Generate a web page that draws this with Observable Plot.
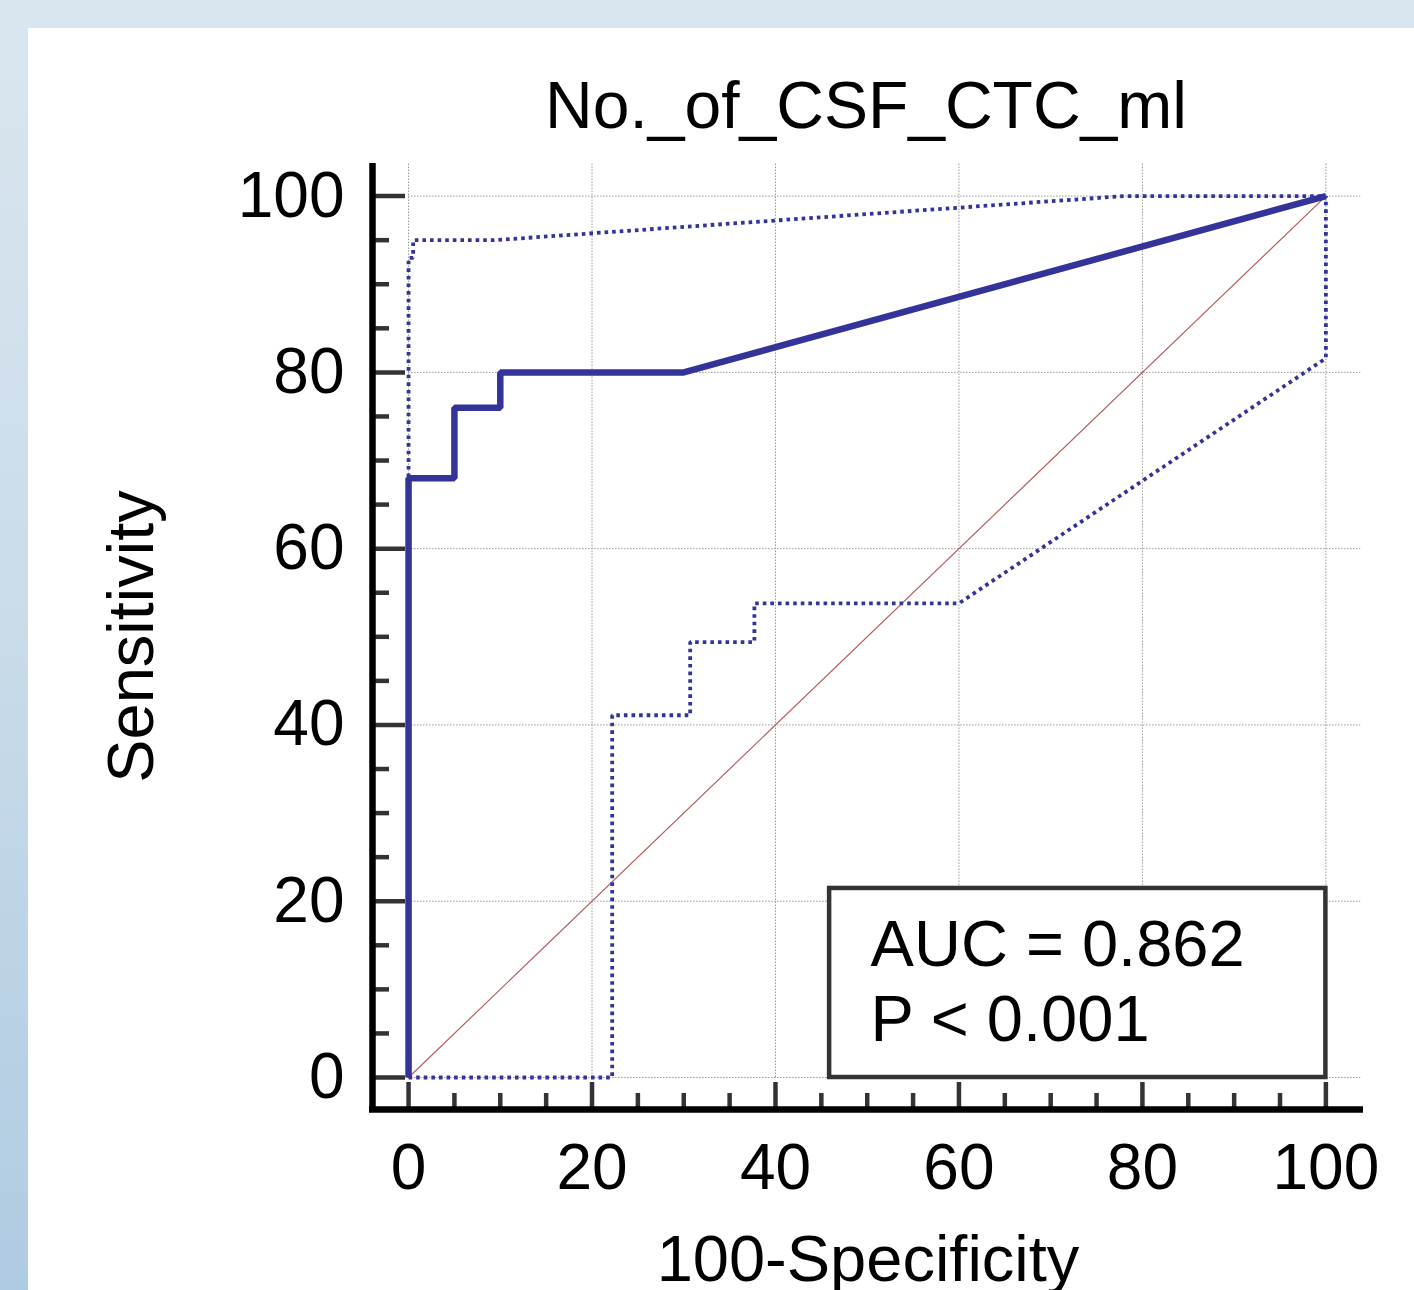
<!DOCTYPE html>
<html>
<head>
<meta charset="utf-8">
<script src="https://cdn.jsdelivr.net/npm/d3@7"></script>
<script src="https://cdn.jsdelivr.net/npm/@observablehq/plot@0.6"></script>
<style>
html, body { margin: 0; padding: 0; width: 1414px; height: 1290px; overflow: hidden; }
body { position: relative; background: linear-gradient(to bottom, #dae6ef 0%, #c9dbe9 50%, #afcbe2 100%); }
#panel { position: absolute; left: 28px; top: 28px; width: 1386px; height: 1262px; background: #ffffff; overflow: hidden; }
#panel svg { display: block; }
</style>
</head>
<body>
<div id="panel"></div>
<script>
// ---- Text ----
const titleText = "No._of_CSF_CTC_ml";
const xLabelText = "100-Specificity";
const yLabelText = "Sensitivity";
const statLines = ["AUC = 0.862", "P < 0.001"];

// ---- Tick values ----
const majorTicks = [0, 20, 40, 60, 80, 100];
const minorTicks = [5, 10, 15, 25, 30, 35, 45, 50, 55, 65, 70, 75, 85, 90, 95];

// ---- ROC curve (100-Specificity, Sensitivity) ----
const rocX = [0, 0, 5, 5, 10, 10, 30, 100];
const rocY = [0, 68, 68, 76, 76, 80, 80, 100];

// ---- Upper confidence bound ----
const upperX = [0, 0, 0.5, 0.5, 9.3, 78, 100];
const upperY = [0, 93, 93, 95, 95, 100, 100];

// ---- Lower confidence bound ----
const lowerX = [0, 22.2, 22.2, 30.7, 30.7, 37.7, 37.7, 60, 100, 100];
const lowerY = [0, 0, 41.1, 41.1, 49.4, 49.4, 53.8, 53.8, 81.6, 100];

// ---- Reference diagonal ----
const diagX = [0, 100];
const diagY = [0, 100];

// ---- Statistics box extent (data units) ----
const boxX = [45.9, 100];
const boxY = [0, 21.45];

// ---- Layout ----
const W = 1386, H = 1262;
const mL = 344, mR = 51, mT = 135, mB = 181;
const xDomain = [-3.93, 104.1];
const yDomain = [-3.63, 103.7];
const pxPerX = (W - mL - mR) / (xDomain[1] - xDomain[0]);
const pxPerY = (H - mT - mB) / (yDomain[1] - yDomain[0]);

const toPts = (xs, ys) => xs.map((x, i) => ({x, y: ys[i]}));
const roc = toPts(rocX, rocY);
const upper = toPts(upperX, upperY);
const lower = toPts(lowerX, lowerY);
const diag = toPts(diagX, diagY);
const box = [{x1: boxX[0], x2: boxX[1], y1: boxY[0], y2: boxY[1]}];

const navy = "#333399";
const font = "'Liberation Sans', Arial, Helvetica, sans-serif";
const fs = 64;
const dotted = {stroke: navy, strokeWidth: 3.8, strokeDasharray: "3.6,4", strokeLinecap: "butt", strokeLinejoin: "miter"};

const chart = Plot.plot({
  width: W,
  height: H,
  marginLeft: mL,
  marginRight: mR,
  marginTop: mT,
  marginBottom: mB,
  x: {domain: xDomain},
  y: {domain: yDomain},
  style: {fontFamily: font, background: "transparent", color: "#000", overflow: "visible"},
  marks: [
    // grid
    Plot.ruleX(majorTicks, {x: d => d, y1: 0, y2: yDomain[1], stroke: "#999", strokeWidth: 1, strokeDasharray: "1.5,1.5"}),
    Plot.ruleY(majorTicks, {y: d => d, x1: 0, x2: xDomain[1] - 0.3, stroke: "#999", strokeWidth: 1, strokeDasharray: "1.5,1.5"}),
    // statistics box
    Plot.rect(box, {x1: "x1", x2: "x2", y1: "y1", y2: "y2", fill: "#fff", stroke: "#333", strokeWidth: 4.5}),
    Plot.text([statLines.join("\n")], {
      x: boxX[0], y: boxY[1], text: d => d, dx: 41, dy: 24,
      textAnchor: "start", lineAnchor: "top", lineHeight: 1.16, fontSize: 65, fill: "#000"
    }),
    // diagonal
    Plot.line(diag, {x: "x", y: "y", stroke: "#b86060", strokeWidth: 1.2}),
    // confidence bounds
    Plot.line(upper, {x: "x", y: "y", ...dotted}),
    Plot.line(lower, {x: "x", y: "y", ...dotted}),
    // ROC curve
    Plot.line(roc, {x: "x", y: "y", stroke: navy, strokeWidth: 6.5, strokeLinejoin: "miter", strokeLinecap: "butt"}),
    // y ticks (inward)
    Plot.ruleY(majorTicks, {y: d => d, x1: xDomain[0], x2: xDomain[0] + 33 / pxPerX, stroke: "#333", strokeWidth: 4.5}),
    Plot.ruleY(minorTicks, {y: d => d, x1: xDomain[0], x2: xDomain[0] + 17 / pxPerX, stroke: "#333", strokeWidth: 4.5}),
    // x ticks (inward)
    Plot.ruleX(majorTicks, {x: d => d, y1: yDomain[0], y2: yDomain[0] + 27 / pxPerY, stroke: "#333", strokeWidth: 4.5}),
    Plot.ruleX(minorTicks, {x: d => d, y1: yDomain[0], y2: yDomain[0] + 16 / pxPerY, stroke: "#333", strokeWidth: 4.5}),
    // axis lines
    Plot.ruleX([xDomain[0]], {x: d => d, stroke: "#000", strokeWidth: 6.5, insetBottom: -3}),
    Plot.ruleY([yDomain[0]], {y: d => d, stroke: "#000", strokeWidth: 6.5, insetLeft: -3}),
    // tick labels
    Plot.axisY({ticks: majorTicks, anchor: "left", tickSize: 0, tickPadding: 28, fontSize: fs, label: null}),
    Plot.axisX({ticks: majorTicks, anchor: "bottom", tickSize: 0, tickPadding: 34, fontSize: fs, label: null}),
    // title and axis labels
    Plot.text([titleText], {frameAnchor: "top", text: d => d, textAnchor: "middle", lineAnchor: "bottom", dy: -36, dx: -2, fontSize: 66, fill: "#000"}),
    Plot.text([xLabelText], {frameAnchor: "bottom", text: d => d, textAnchor: "middle", lineAnchor: "top", dy: 125, fontSize: 65, fill: "#000"}),
    Plot.text([yLabelText], {frameAnchor: "left", text: d => d, textAnchor: "middle", rotate: -90, lineAnchor: "bottom", dx: -220, fontSize: 65, fill: "#000"})
  ]
});
document.getElementById("panel").appendChild(chart);
</script>
</body>
</html>
